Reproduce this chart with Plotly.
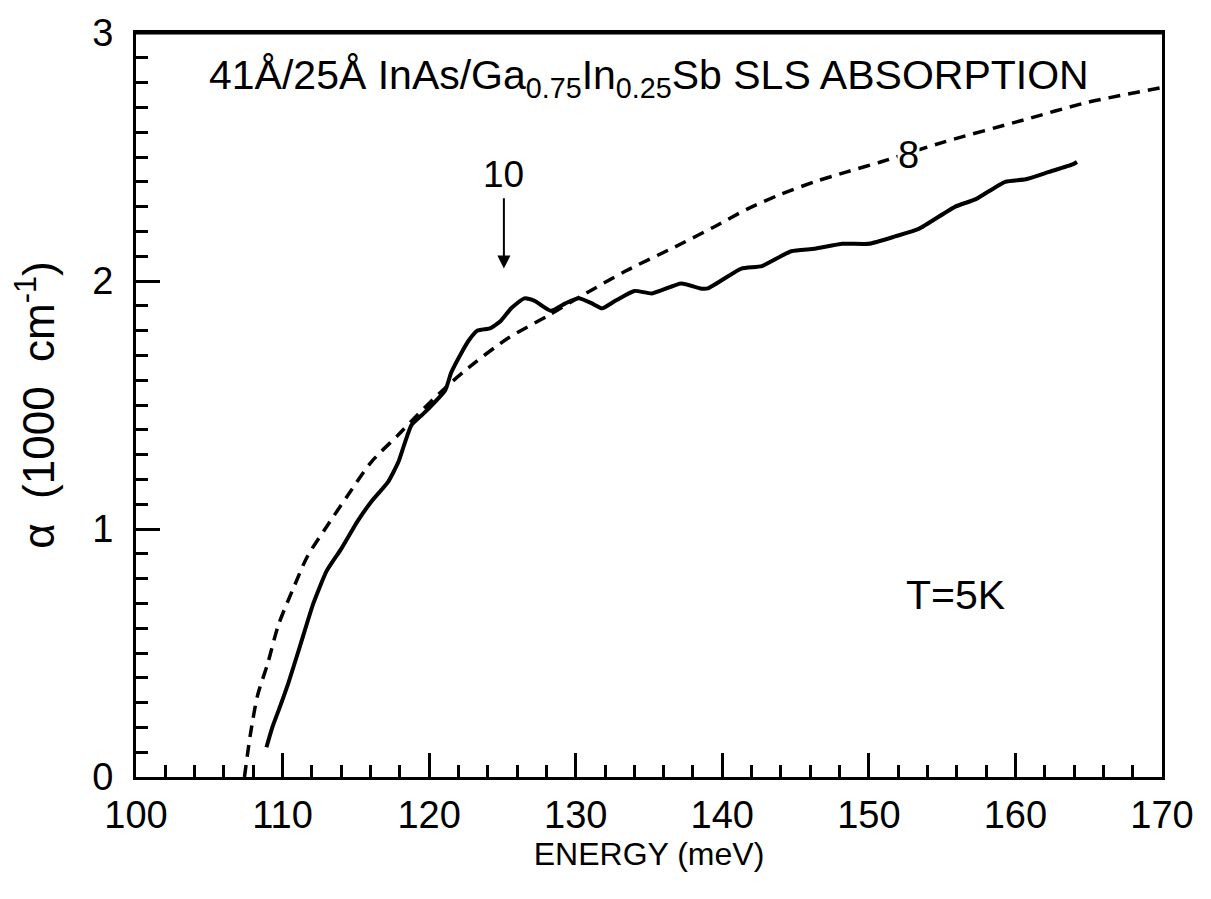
import plotly.graph_objects as go

# Measured absorption (solid)
meas_energy = [108.9, 109.3, 109.8, 110.4, 111.2, 112.1, 113.0, 114.0, 115.1, 116.05,
               117.2, 117.9, 118.3, 118.8, 119.7, 121.1, 121.5, 122.2, 122.7, 123.3,
               124.2, 124.9, 125.6, 126.5, 127.2, 128.3, 129.3, 130.2, 131.1, 131.8,
               132.7, 134.0, 135.2, 137.2, 138.5, 139.0, 141.3, 142.7, 144.7, 146.3,
               148.2, 150.0, 151.8, 153.4, 155.9, 157.3, 159.3, 160.7, 162.3, 163.9, 164.2]
meas_alpha = [0.12, 0.20, 0.28, 0.38, 0.53, 0.70, 0.83, 0.92, 1.03, 1.11,
              1.19, 1.27, 1.34, 1.42, 1.47, 1.56, 1.63, 1.71, 1.76, 1.80,
              1.81, 1.84, 1.89, 1.93, 1.92, 1.88, 1.91, 1.93, 1.91, 1.89,
              1.92, 1.96, 1.95, 1.99, 1.97, 1.97, 2.05, 2.06, 2.12, 2.13,
              2.15, 2.15, 2.18, 2.21, 2.30, 2.33, 2.40, 2.41, 2.44, 2.47, 2.48]

# Calculated absorption (dashed, "8" band model)
calc_energy = [107.4, 107.8, 108.3, 109.0, 109.7, 110.8, 111.7, 112.9, 114.5, 116.05,
               117.9, 119.2, 121.3, 123.1, 125.4, 128.1, 130.4, 133.4, 137.2, 139.5,
               141.7, 144.0, 146.3, 148.5, 150.8, 155.1, 160.6, 164.9, 170.0]
calc_alpha = [0.0, 0.17, 0.33, 0.46, 0.61, 0.77, 0.89, 1.00, 1.14, 1.27,
              1.38, 1.46, 1.58, 1.67, 1.77, 1.86, 1.94, 2.04, 2.15, 2.22,
              2.29, 2.35, 2.40, 2.44, 2.48, 2.56, 2.65, 2.72, 2.78]

x_ticks = [100, 110, 120, 130, 140, 150, 160, 170]
y_ticks = [0, 1, 2, 3]

FONT = "Liberation Sans, Arial, sans-serif"

fig = go.Figure()
fig.add_trace(go.Scatter(x=calc_energy, y=calc_alpha, mode="lines",
                         line=dict(color="black", width=3.5, dash="12px,8px", shape="spline", smoothing=0.8),
                         showlegend=False, cliponaxis=False))
fig.add_trace(go.Scatter(x=meas_energy, y=meas_alpha, mode="lines",
                         line=dict(color="black", width=4, shape="spline", smoothing=0.5),
                         showlegend=False))

axis_common = dict(showline=True, linecolor="black", linewidth=3, mirror=True,
                   showgrid=False, zeroline=False, ticks="inside", ticklen=24,
                   tickwidth=3, tickcolor="black", automargin=False,
                   ticklabeloverflow="allow",
                   tickfont=dict(family=FONT, size=38, color="black"))

fig.update_xaxes(range=[100, 170], tickvals=x_ticks, ticktext=[str(v) for v in x_ticks],
                 minor=dict(dtick=2, tick0=100, ticks="inside", ticklen=12, tickwidth=3, tickcolor="black"),
                 ticklabelstandoff=2,
                 title=dict(text="ENERGY (meV)", font=dict(family=FONT, size=32, color="black"), standoff=0),
                 **axis_common)
fig.update_yaxes(range=[0, 3], tickvals=y_ticks, ticktext=[str(v) for v in y_ticks],
                 minor=dict(dtick=0.1, tick0=0, ticks="inside", ticklen=12, tickwidth=3, tickcolor="black"),
                 ticklabelstandoff=12,
                 title=dict(text="α  (1000  cm<sup>-1</sup>)", font=dict(family=FONT, size=44, color="black"), standoff=28),
                 **axis_common)

# top border of the frame
fig.add_shape(type="line", xref="paper", yref="paper", x0=0, x1=1, y0=1, y1=1,
              line=dict(color="black", width=3), layer="above")

fig.add_annotation(xref="paper", yref="paper", x=0.5, y=0.94, xanchor="center", yanchor="middle",
                   text="41Å/25Å InAs/Ga<sub>0.75</sub>In<sub>0.25</sub>Sb SLS ABSORPTION",
                   showarrow=False, font=dict(family=FONT, size=41, color="black"))
fig.add_annotation(x=152.7, y=2.51, text="8", showarrow=False, bgcolor="white", borderpad=0,
                   font=dict(family=FONT, size=38, color="black"))
fig.add_annotation(x=125.1, y=2.43, text="10", showarrow=False,
                   font=dict(family=FONT, size=37, color="black"))
fig.add_annotation(x=125.1, y=2.05, ax=125.1, ay=2.34, axref="x", ayref="y", xref="x", yref="y",
                   text="", showarrow=True, arrowhead=2, arrowsize=1.3, arrowwidth=2, arrowcolor="black")
fig.add_annotation(x=155.9, y=0.735, text="T=5K", showarrow=False,
                   font=dict(family=FONT, size=41, color="black"))

fig.update_layout(width=1211, height=899, plot_bgcolor="white", paper_bgcolor="white",
                  margin=dict(l=128, r=57, t=25, b=130), showlegend=False)

fig.write_html("out.html")
